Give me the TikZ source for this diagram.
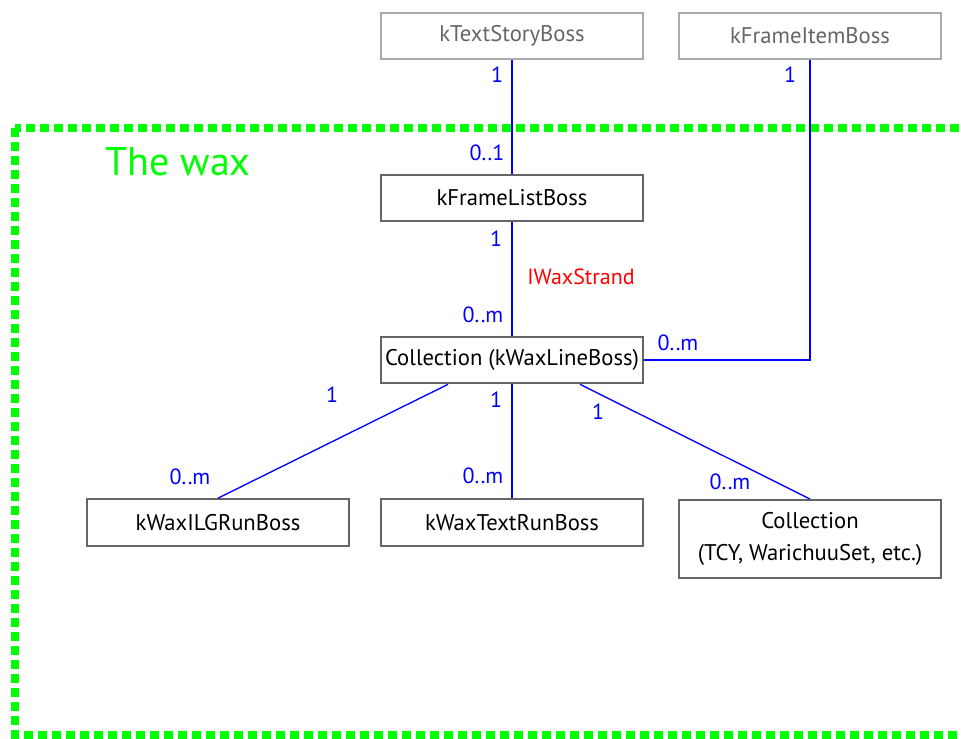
\documentclass[tikz,border=0pt]{standalone}
\usepackage{fontspec}
\setmainfont{PT Sans}
\definecolor{waxgreen}{RGB}{0,255,0}
\definecolor{boxgray}{RGB}{102,102,102}
\definecolor{topgray}{RGB}{170,170,170}
\definecolor{textgray}{RGB}{102,102,102}

\begin{document}
\begin{tikzpicture}[x=0.75pt, y=-0.75pt,
        boss/.style={draw=boxgray, line width=1.5pt, minimum width=197pt, minimum height=35pt,
            inner sep=0pt, align=center, font=\fontsize{17}{24.5}\selectfont},
        outer/.style={boss, draw=topgray, text=textgray},
        link/.style={draw=blue, line width=1pt},
        mult/.style={text=blue, inner sep=0pt, font=\fontsize{16.5}{20}\selectfont},
        wax/.style={draw=waxgreen, line width=5.8pt, dash pattern=on 6.5pt off 4pt}]
        \useasboundingbox (0, 0) rectangle (961, 739);
        \draw[wax] (15, 128) rectangle (972, 735);
        \node[text=waxgreen, font=\fontsize{30}{36}\selectfont] (title) at (178, 162) {The wax};

        \node[outer] (tsb) at (512, 36) {kTextStoryBoss};
        \node[outer] (fib) at (810, 36) {kFrameItemBoss};
        \node[boss] (flb) at (512, 198) {kFrameListBoss};
        \node[boss] (wlb) at (512, 360) {Collection (kWaxLineBoss)};
        \node[boss] (ilg) at (218, 522.5) {kWaxILGRunBoss};
        \node[boss] (wtr) at (512, 522.5) {kWaxTextRunBoss};
        \node[boss, minimum height=58.5pt] (col) at (810, 539) {Collection\\(TCY, WarichuuSet, etc.)};

        \draw[link] (tsb.south) -- (flb.north);
        \draw[link] (flb.south) -- (wlb.north);
        \draw[link] (fib.south) |- (wlb.east);
        \draw[link] ([xshift=-48pt]wlb.south) -- (ilg.north);
        \draw[link] (wlb.south) -- (wtr.north);
        \draw[link] ([xshift=51pt]wlb.south) -- (col.north);

        \node[mult] (m1) at (497, 75) {1};
        \node[mult] (m2) at (790, 75) {1};
        \node[mult] (m3) at (487, 153) {0..1};
        \node[mult] (m4) at (496, 239) {1};
        \node[text=red, inner sep=0pt, font=\fontsize{16.5}{20}\selectfont] (strand) at (581, 277) {IWaxStrand};
        \node[mult] (m5) at (483, 315) {0..m};
        \node[mult] (m6) at (678, 343) {0..m};
        \node[mult] (m7) at (332, 395) {1};
        \node[mult] (m8) at (496, 400) {1};
        \node[mult] (m9) at (598, 412) {1};
        \node[mult] (m10) at (190, 477) {0..m};
        \node[mult] (m11) at (483, 476) {0..m};
        \node[mult] (m12) at (730, 482) {0..m};
    \end{tikzpicture}
\end{document}
